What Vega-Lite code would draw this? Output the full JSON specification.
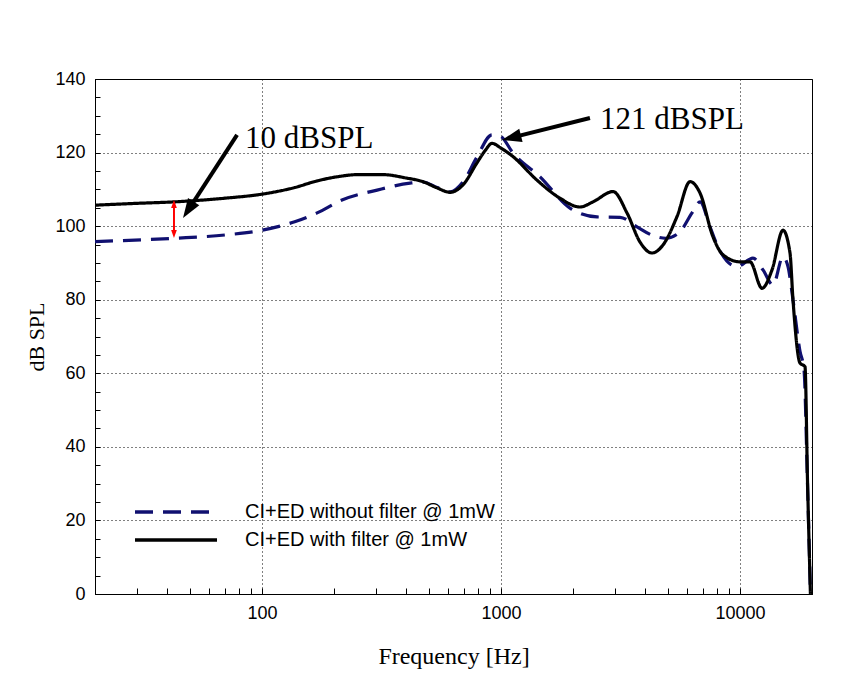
{
  "$schema": "https://vega.github.io/schema/vega-lite/v6.json",
  "autosize": {"type": "none"},
  "width": 717,
  "height": 515,
  "padding": {"left": 95, "top": 79, "right": 42, "bottom": 85},
  "background": "white",
  "config": {
    "view": {"stroke": "black", "strokeWidth": 1},
    "axis": {"domainColor": "black", "tickColor": "black", "labelColor": "black", "titleColor": "black"}
  },
  "encoding": {
    "x": {
      "field": "f", "type": "quantitative",
      "scale": {"type": "log", "domain": [20, 20000], "nice": false},
      "axis": {
        "title": "Frequency [Hz]", "titleFont": "Liberation Serif", "titleFontSize": 24, "titleFontWeight": "normal", "titlePadding": 22,
        "values": [20,30,40,50,60,70,80,90,100,200,300,400,500,600,700,800,900,1000,2000,3000,4000,5000,6000,7000,8000,9000,10000,20000],
        "labelExpr": "datum.value == 100 || datum.value == 1000 || datum.value == 10000 ? '' + datum.value : ''",
        "labelFont": "Liberation Sans", "labelFontSize": 18, "labelPadding": 16, "labelOverlap": false, "labelFlush": false,
        "tickSize": -6,
        "grid": true, "gridColor": "black", "gridDash": [1, 3], "gridWidth": 1,
        "gridOpacity": {"condition": {"test": "datum.value == 100 || datum.value == 1000 || datum.value == 10000", "value": 1}, "value": 0}
      }
    },
    "y": {
      "field": "db", "type": "quantitative",
      "scale": {"domain": [0, 140], "nice": false},
      "axis": {
        "title": "dB SPL", "titleFont": "Liberation Serif", "titleFontSize": 22, "titleFontWeight": "normal", "titlePadding": 6,
        "values": [0,5,10,15,20,25,30,35,40,45,50,55,60,65,70,75,80,85,90,95,100,105,110,115,120,125,130,135,140],
        "labelExpr": "datum.value % 20 == 0 ? datum.label : ''",
        "labelFont": "Liberation Sans", "labelFontSize": 18, "labelPadding": 15, "labelOverlap": false, "labelFlush": false,
        "tickSize": -5,
        "grid": true, "gridColor": "black", "gridDash": [1, 3], "gridWidth": 1,
        "gridOpacity": {"condition": {"test": "datum.value % 20 == 0", "value": 1}, "value": 0}
      }
    }
  },
  "layer": [
    {
      "data": {"values": [
        {"s": "CI+ED without filter @ 1mW", "f": 20, "db": 95.8},
        {"s": "CI+ED without filter @ 1mW", "f": 43, "db": 96.7},
        {"s": "CI+ED without filter @ 1mW", "f": 70, "db": 97.6},
        {"s": "CI+ED without filter @ 1mW", "f": 100, "db": 98.9},
        {"s": "CI+ED without filter @ 1mW", "f": 137, "db": 101.2},
        {"s": "CI+ED without filter @ 1mW", "f": 170, "db": 103.6},
        {"s": "CI+ED without filter @ 1mW", "f": 216, "db": 107.1},
        {"s": "CI+ED without filter @ 1mW", "f": 303, "db": 109.8},
        {"s": "CI+ED without filter @ 1mW", "f": 416, "db": 111.7},
        {"s": "CI+ED without filter @ 1mW", "f": 471, "db": 112.0},
        {"s": "CI+ED without filter @ 1mW", "f": 540, "db": 110.5},
        {"s": "CI+ED without filter @ 1mW", "f": 612, "db": 109.3},
        {"s": "CI+ED without filter @ 1mW", "f": 693, "db": 112.0},
        {"s": "CI+ED without filter @ 1mW", "f": 793, "db": 118.8},
        {"s": "CI+ED without filter @ 1mW", "f": 916, "db": 124.8},
        {"s": "CI+ED without filter @ 1mW", "f": 990, "db": 124.5},
        {"s": "CI+ED without filter @ 1mW", "f": 1122, "db": 119.9},
        {"s": "CI+ED without filter @ 1mW", "f": 1456, "db": 113.4},
        {"s": "CI+ED without filter @ 1mW", "f": 1943, "db": 104.9},
        {"s": "CI+ED without filter @ 1mW", "f": 2520, "db": 102.5},
        {"s": "CI+ED without filter @ 1mW", "f": 3146, "db": 102.4},
        {"s": "CI+ED without filter @ 1mW", "f": 3706, "db": 99.8},
        {"s": "CI+ED without filter @ 1mW", "f": 4300, "db": 97.5},
        {"s": "CI+ED without filter @ 1mW", "f": 4900, "db": 96.7},
        {"s": "CI+ED without filter @ 1mW", "f": 5608, "db": 98.5},
        {"s": "CI+ED without filter @ 1mW", "f": 6296, "db": 103.6},
        {"s": "CI+ED without filter @ 1mW", "f": 6800, "db": 106.6},
        {"s": "CI+ED without filter @ 1mW", "f": 7486, "db": 99.8},
        {"s": "CI+ED without filter @ 1mW", "f": 8012, "db": 94.9},
        {"s": "CI+ED without filter @ 1mW", "f": 9712, "db": 89.0},
        {"s": "CI+ED without filter @ 1mW", "f": 11328, "db": 91.3},
        {"s": "CI+ED without filter @ 1mW", "f": 12474, "db": 88.1},
        {"s": "CI+ED without filter @ 1mW", "f": 13736, "db": 84.0},
        {"s": "CI+ED without filter @ 1mW", "f": 15124, "db": 91.7},
        {"s": "CI+ED without filter @ 1mW", "f": 15872, "db": 89.0},
        {"s": "CI+ED without filter @ 1mW", "f": 16652, "db": 80},
        {"s": "CI+ED without filter @ 1mW", "f": 17816, "db": 66},
        {"s": "CI+ED without filter @ 1mW", "f": 18516, "db": 61},
        {"s": "CI+ED without filter @ 1mW", "f": 19150, "db": 30},
        {"s": "CI+ED without filter @ 1mW", "f": 19700, "db": 0},
        {"s": "CI+ED with filter @ 1mW", "f": 20, "db": 105.7},
        {"s": "CI+ED with filter @ 1mW", "f": 30, "db": 106.2},
        {"s": "CI+ED with filter @ 1mW", "f": 43, "db": 106.6},
        {"s": "CI+ED with filter @ 1mW", "f": 70, "db": 107.6},
        {"s": "CI+ED with filter @ 1mW", "f": 100, "db": 108.7},
        {"s": "CI+ED with filter @ 1mW", "f": 137, "db": 110.5},
        {"s": "CI+ED with filter @ 1mW", "f": 170, "db": 112.3},
        {"s": "CI+ED with filter @ 1mW", "f": 210, "db": 113.5},
        {"s": "CI+ED with filter @ 1mW", "f": 250, "db": 114.0},
        {"s": "CI+ED with filter @ 1mW", "f": 321, "db": 114.0},
        {"s": "CI+ED with filter @ 1mW", "f": 400, "db": 113.1},
        {"s": "CI+ED with filter @ 1mW", "f": 471, "db": 112.1},
        {"s": "CI+ED with filter @ 1mW", "f": 540, "db": 110.4},
        {"s": "CI+ED with filter @ 1mW", "f": 612, "db": 109.2},
        {"s": "CI+ED with filter @ 1mW", "f": 693, "db": 111.2},
        {"s": "CI+ED with filter @ 1mW", "f": 793, "db": 117.2},
        {"s": "CI+ED with filter @ 1mW", "f": 857, "db": 120.5},
        {"s": "CI+ED with filter @ 1mW", "f": 916, "db": 122.5},
        {"s": "CI+ED with filter @ 1mW", "f": 1000, "db": 121.2},
        {"s": "CI+ED with filter @ 1mW", "f": 1122, "db": 118.9},
        {"s": "CI+ED with filter @ 1mW", "f": 1414, "db": 112.5},
        {"s": "CI+ED with filter @ 1mW", "f": 1764, "db": 107.6},
        {"s": "CI+ED with filter @ 1mW", "f": 2140, "db": 105.2},
        {"s": "CI+ED with filter @ 1mW", "f": 2425, "db": 106.6},
        {"s": "CI+ED with filter @ 1mW", "f": 2942, "db": 109.4},
        {"s": "CI+ED with filter @ 1mW", "f": 3365, "db": 103.6},
        {"s": "CI+ED with filter @ 1mW", "f": 3813, "db": 95.7},
        {"s": "CI+ED with filter @ 1mW", "f": 4282, "db": 92.7},
        {"s": "CI+ED with filter @ 1mW", "f": 4762, "db": 94.9},
        {"s": "CI+ED with filter @ 1mW", "f": 5448, "db": 102.6},
        {"s": "CI+ED with filter @ 1mW", "f": 6176, "db": 112.1},
        {"s": "CI+ED with filter @ 1mW", "f": 6800, "db": 109.0},
        {"s": "CI+ED with filter @ 1mW", "f": 7704, "db": 97.1},
        {"s": "CI+ED with filter @ 1mW", "f": 8484, "db": 92.2},
        {"s": "CI+ED with filter @ 1mW", "f": 9992, "db": 90.3},
        {"s": "CI+ED with filter @ 1mW", "f": 11006, "db": 90.3},
        {"s": "CI+ED with filter @ 1mW", "f": 12356, "db": 83.1},
        {"s": "CI+ED with filter @ 1mW", "f": 13604, "db": 88.1},
        {"s": "CI+ED with filter @ 1mW", "f": 15124, "db": 98.9},
        {"s": "CI+ED with filter @ 1mW", "f": 16180, "db": 92.7},
        {"s": "CI+ED with filter @ 1mW", "f": 16652, "db": 80},
        {"s": "CI+ED with filter @ 1mW", "f": 17816, "db": 62.8},
        {"s": "CI+ED with filter @ 1mW", "f": 18694, "db": 61.8},
        {"s": "CI+ED with filter @ 1mW", "f": 19150, "db": 31},
        {"s": "CI+ED with filter @ 1mW", "f": 19700, "db": 0}
      ]},
      "mark": {"type": "line", "strokeWidth": 3.2, "interpolate": "monotone", "clip": true},
      "encoding": {
        "color": {
          "field": "s", "type": "nominal",
          "scale": {"domain": ["CI+ED without filter @ 1mW", "CI+ED with filter @ 1mW"], "range": ["#101070", "#000000"]},
          "legend": {
            "orient": "none", "legendX": 30, "legendY": 423, "title": null, "direction": "vertical",
            "symbolType": "M0,0H10", "symbolSize": 269, "symbolStrokeWidth": 3.5,
            "labelFont": "Liberation Sans", "labelFontSize": 20, "labelColor": "black", "labelOffset": 100, "labelLimit": 0,
            "rowPadding": 8, "padding": 0
          }
        },
        "strokeDash": {
          "field": "s", "type": "nominal",
          "scale": {"domain": ["CI+ED without filter @ 1mW", "CI+ED with filter @ 1mW"], "range": [[18, 10], [1, 0]]}
        }
      }
    },
    {
      "data": {"values": [
        {"f": 78.6, "db": 124.8, "f2": 49.7, "db2": 104.9},
        {"f": 2355, "db": 129.4, "f2": 1129, "db2": 124.2}
      ]},
      "mark": {"type": "rule", "color": "black", "strokeWidth": 4},
      "encoding": {"x2": {"field": "f2"}, "y2": {"field": "db2"}}
    },
    {
      "data": {"values": [{"f": 46.7, "db": 102.2}]},
      "mark": {"type": "point", "shape": "M0,0L0.45,1.3L-0.45,1.3Z", "filled": true, "color": "black", "opacity": 1, "size": 900, "angle": 213, "strokeWidth": 0}
    },
    {
      "data": {"values": [{"f": 1009, "db": 123.4}]},
      "mark": {"type": "point", "shape": "M0,0L0.45,1.3L-0.45,1.3Z", "filled": true, "color": "black", "opacity": 1, "size": 900, "angle": 256, "strokeWidth": 0}
    },
    {
      "data": {"values": [{"f": 42.8, "db": 106.0, "db2": 97.9}]},
      "mark": {"type": "rule", "color": "#ff0000", "strokeWidth": 2},
      "encoding": {"y2": {"field": "db2"}}
    },
    {
      "data": {"values": [{"f": 42.8, "db": 107.1}]},
      "mark": {"type": "point", "shape": "M0,0L0.5,1.4L-0.5,1.4Z", "filled": true, "color": "#ff0000", "opacity": 1, "size": 130, "strokeWidth": 0}
    },
    {
      "data": {"values": [{"f": 42.8, "db": 96.8}]},
      "mark": {"type": "point", "shape": "M0,0L0.5,-1.4L-0.5,-1.4Z", "filled": true, "color": "#ff0000", "opacity": 1, "size": 130, "strokeWidth": 0}
    },
    {
      "data": {"values": [
        {"f": 84.9, "db": 121.2, "t": "10 dBSPL"},
        {"f": 2594, "db": 126.4, "t": "121 dBSPL"}
      ]},
      "mark": {"type": "text", "align": "left", "baseline": "alphabetic", "font": "Liberation Serif", "fontSize": 31, "color": "black"},
      "encoding": {"text": {"field": "t"}}
    }
  ]
}
